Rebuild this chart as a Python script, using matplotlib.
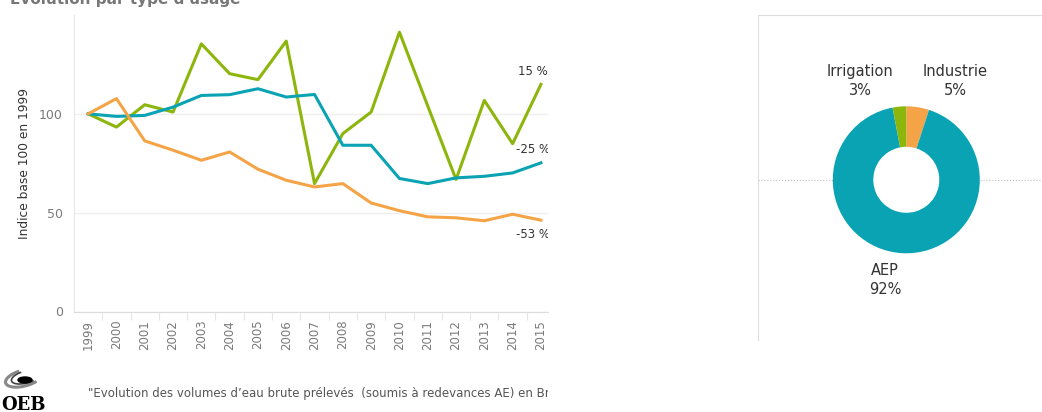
import matplotlib
matplotlib.use("Agg")
from matplotlib import pyplot as plt
from matplotlib.patches import Arc, Ellipse
from matplotlib.transforms import Bbox, TransformedBbox

# data (index, base 100 in 1999)
years = list(range(1999, 2016))
irrigation = [100, 93.3, 104.6, 100.9, 135.4, 120.3, 117.3, 136.8, 64.7, 90.0,
              100.9, 141.3, 104.0, 66.8, 106.8, 84.9, 114.9]
aep = [100, 98.7, 99.2, 103.4, 109.3, 109.7, 112.7, 108.5, 109.8, 84.1,
       84.1, 67.3, 64.7, 67.6, 68.4, 70.1, 75.2]
industrie = [100, 107.7, 86.3, 81.6, 76.5, 80.7, 72.0, 66.4, 63.0, 64.7,
             54.9, 51.0, 47.9, 47.4, 45.9, 49.2, 46.2]
end_labels = ["15 %", "-25 %", "-53 %"]

usages = ["Industrie", "AEP", "Irrigation"]
parts = [5, 92, 3]

GREEN = "#8db60c"
TEAL = "#0aa3b3"
ORANGE = "#f4a446"

W, H = 1042, 412
fig = plt.figure(figsize=(W / 100, H / 100), dpi=100)

def px(x0, y0, x1, y1):
    # pixel box (top-left origin) -> figure fraction
    return [x0 / W, 1 - y1 / H, (x1 - x0) / W, (y1 - y0) / H]

# ---- left: line chart
ax = fig.add_axes(px(74, 15, 548, 311.5))
ax.plot(years, irrigation, color=GREEN, lw=2.2, zorder=3)
ax.plot(years, aep, color=TEAL, lw=2.2, zorder=3)
ax.plot(years, industrie, color=ORANGE, lw=2.2, zorder=3)

offs = [(-8, 13), (-8, 13), (-8, -14)]
for series, lab, (dx, dy) in zip([irrigation, aep, industrie], end_labels, offs):
    ax.annotate(lab, (years[-1], series[-1]), xytext=(dx, dy),
                textcoords="offset pixels", ha="center", va="center",
                fontsize=8.5, color="#333333", clip_on=True, zorder=4)

ax.set_xlim(1998.5, 2015.25)
ax.set_ylim(0, 150)
ax.set_yticks([0, 50, 100])
ax.set_yticklabels(["0", "50", "100"])
ax.set_xticks(years)
ax.set_xticklabels([str(y) for y in years], rotation=90)
ax.set_xticks([y + 0.5 for y in years[:-1]], minor=True)
ax.tick_params(axis="y", length=0, pad=8, labelsize=9, labelcolor="#7a7a7a")
ax.tick_params(axis="x", which="major", length=0, pad=6, labelsize=8.5,
               labelcolor="#7a7a7a")
ax.tick_params(axis="x", which="minor", length=6, color="#e6e6e6", width=0.8)
ax.grid(axis="y", color="#efefef", lw=1)
for s in ["top", "right"]:
    ax.spines[s].set_visible(False)
ax.spines["left"].set_color("#e8e8e8")
ax.spines["bottom"].set_color("#dcdcdc")
ax.set_ylabel("Indice base 100 en 1999", fontsize=8.8, color="#333333", labelpad=6)

# title, cut by the top edge as in the source
fig.text(10 / W, 1 - 4 / H, "Evolution par type d'usage", fontsize=11,
         fontweight="bold", color="#777777", va="baseline", ha="left")

# footer
clip = TransformedBbox(Bbox.from_extents(0, 0, 548 / W, 1), fig.transFigure)
cap = fig.text(88 / W, 1 - 393 / H,
               "\"Evolution des volumes d\u2019eau brute prélevés  (soumis à redevances AE) en Bretagne\"",
               fontsize=8.5, color="#555555", va="center", ha="left")
cap.set_clip_box(clip)
cap.set_clip_on(True)

# small logo
fig.text(23 / W, 1 - 405 / H, "OEB", family="DejaVu Serif", fontweight="bold",
         fontsize=13, color="black", ha="center", va="center")
logo = fig.add_axes(px(0, 360, 50, 395))
logo.set_xlim(0, 50)
logo.set_ylim(0, 35)
logo.axis("off")
logo.add_patch(Arc((24, 17), 38, 16, angle=15, theta1=110, theta2=330,
                   color="#888888", lw=2.2))
logo.add_patch(Arc((26, 18), 30, 12, angle=15, theta1=120, theta2=320,
                   color="#444444", lw=1.2))
logo.add_patch(Ellipse((25, 15), 14, 6, color="black"))

# ---- right: donut
ax2 = fig.add_axes(px(758, 15, 1042, 340))
cx, cy = 906.3, H - 179.8
wedges, _ = ax2.pie(parts, colors=[ORANGE, TEAL, GREEN], startangle=90,
                    counterclock=False, center=(cx, cy), radius=73.5,
                    wedgeprops=dict(width=40.5, linewidth=0), frame=True)
ax2.set_aspect("auto")
ax2.set_xlim(758, 1042)
ax2.set_ylim(H - 340, H - 15)
ax2.set_xticks([])
ax2.set_yticks([])
for s in ["right", "bottom"]:
    ax2.spines[s].set_visible(False)
for s in ["left", "top"]:
    ax2.spines[s].set_color("#dddddd")
ax2.plot([758, cx - 73.5], [cy, cy], ls=":", color="#bbbbbb", lw=0.8, zorder=0)
ax2.plot([cx + 73.5, 1042], [cy, cy], ls=":", color="#bbbbbb", lw=0.8, zorder=0)

label_pos = {"Industrie": (955, 81), "AEP": (885, 280), "Irrigation": (860, 81)}
for name, p in zip(usages, parts):
    lx, ly = label_pos[name]
    ax2.text(lx, H - ly, f"{name}\n{p}%", ha="center", va="center",
             fontsize=10.5, color="#333333", linespacing=1.4)

fig.savefig("out.png", dpi=100)
